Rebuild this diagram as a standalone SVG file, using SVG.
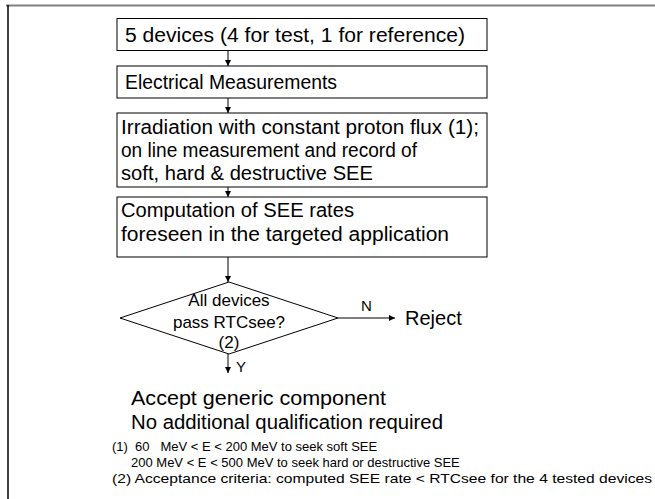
<svg xmlns="http://www.w3.org/2000/svg" width="655" height="499" viewBox="0 0 655 499">
<style>
.box{fill:#fff;stroke:#000;stroke-width:1}
.t{font-family:"Liberation Sans",Arial,sans-serif;fill:#000}
.m{font-size:20px}
.d{font-size:17px}
.n{font-size:13px;white-space:pre}
.c{stroke:#000;stroke-width:1;fill:none}
</style>
<defs>
<marker id="ah" viewBox="0 0 10 10" refX="10" refY="5" markerWidth="6" markerHeight="6" markerUnits="userSpaceOnUse" orient="auto">
<path d="M0,0 L10,5 L0,10 z" fill="#000"/>
</marker>
</defs>
<rect x="0" y="0" width="655" height="499" fill="#fff"/>
<line x1="6" y1="5.5" x2="655" y2="5.5" stroke="#808080" stroke-width="2"/>
<line x1="8" y1="5" x2="8" y2="499" stroke="#000" stroke-width="1.5"/>
<g id="connectors">
<line class="c" x1="228" y1="51" x2="228" y2="66" marker-end="url(#ah)"/>
<line class="c" x1="228" y1="98" x2="228" y2="113" marker-end="url(#ah)"/>
<line class="c" x1="228" y1="187" x2="228" y2="197" marker-end="url(#ah)"/>
<line class="c" x1="228" y1="257" x2="228" y2="282" marker-end="url(#ah)"/>
<line class="c" x1="338" y1="318" x2="395" y2="318" marker-end="url(#ah)"/>
<text class="t" font-size="15" x="361" y="311">N</text>
<line class="c" x1="228" y1="354" x2="228" y2="373" marker-end="url(#ah)"/>
<text class="t" font-size="15" x="236" y="372">Y</text>
</g>
<g id="n1">
<rect class="box" x="117" y="18.5" width="370" height="32"/>
<text class="t m" x="125" y="42" textLength="340" lengthAdjust="spacingAndGlyphs">5 devices (4 for test, 1 for reference)</text>
</g>
<g id="n2">
<rect class="box" x="117" y="66" width="370" height="32"/>
<text class="t m" x="125" y="89" textLength="212" lengthAdjust="spacingAndGlyphs">Electrical Measurements</text>
</g>
<g id="n3">
<rect class="box" x="117" y="113" width="370" height="74"/>
<text class="t m" x="121" y="134" textLength="358" lengthAdjust="spacingAndGlyphs">Irradiation with constant proton flux (1);</text>
<text class="t m" x="121" y="157" textLength="296" lengthAdjust="spacingAndGlyphs">on line measurement and record of</text>
<text class="t m" x="121" y="180" textLength="252" lengthAdjust="spacingAndGlyphs">soft, hard &amp; destructive SEE</text>
</g>
<g id="n4">
<rect class="box" x="117" y="197" width="370" height="60"/>
<text class="t m" x="121" y="217" textLength="233" lengthAdjust="spacingAndGlyphs">Computation of SEE rates</text>
<text class="t m" x="121" y="241" textLength="328" lengthAdjust="spacingAndGlyphs">foreseen in the targeted application</text>
</g>
<g id="n5">
<polygon class="box" points="229,282 338,318 229,354 120,318"/>
<text class="t d" x="229" y="306" text-anchor="middle">All devices</text>
<text class="t d" x="229" y="328" text-anchor="middle">pass RTCsee?</text>
<text class="t d" x="229" y="348" text-anchor="middle">(2)</text>
</g>
<g id="n6">
<text class="t" font-size="20" x="405" y="325">Reject</text>
</g>
<g id="n7">
<text class="t" font-size="20" x="131" y="405" textLength="255" lengthAdjust="spacingAndGlyphs">Accept generic component</text>
<text class="t" font-size="20" x="131" y="429" textLength="312" lengthAdjust="spacingAndGlyphs">No additional qualification required</text>
</g>
<g id="notes">
<text class="t n" x="112" y="451">(1)  60   MeV &lt; E &lt; 200 MeV to seek soft SEE</text>
<text class="t n" x="131" y="467">200 MeV &lt; E &lt; 500 MeV to seek hard or destructive SEE</text>
<text class="t n" x="112" y="483" textLength="540" lengthAdjust="spacingAndGlyphs">(2) Acceptance criteria: computed SEE rate &lt; RTCsee for the 4 tested devices</text>
</g>
</svg>
